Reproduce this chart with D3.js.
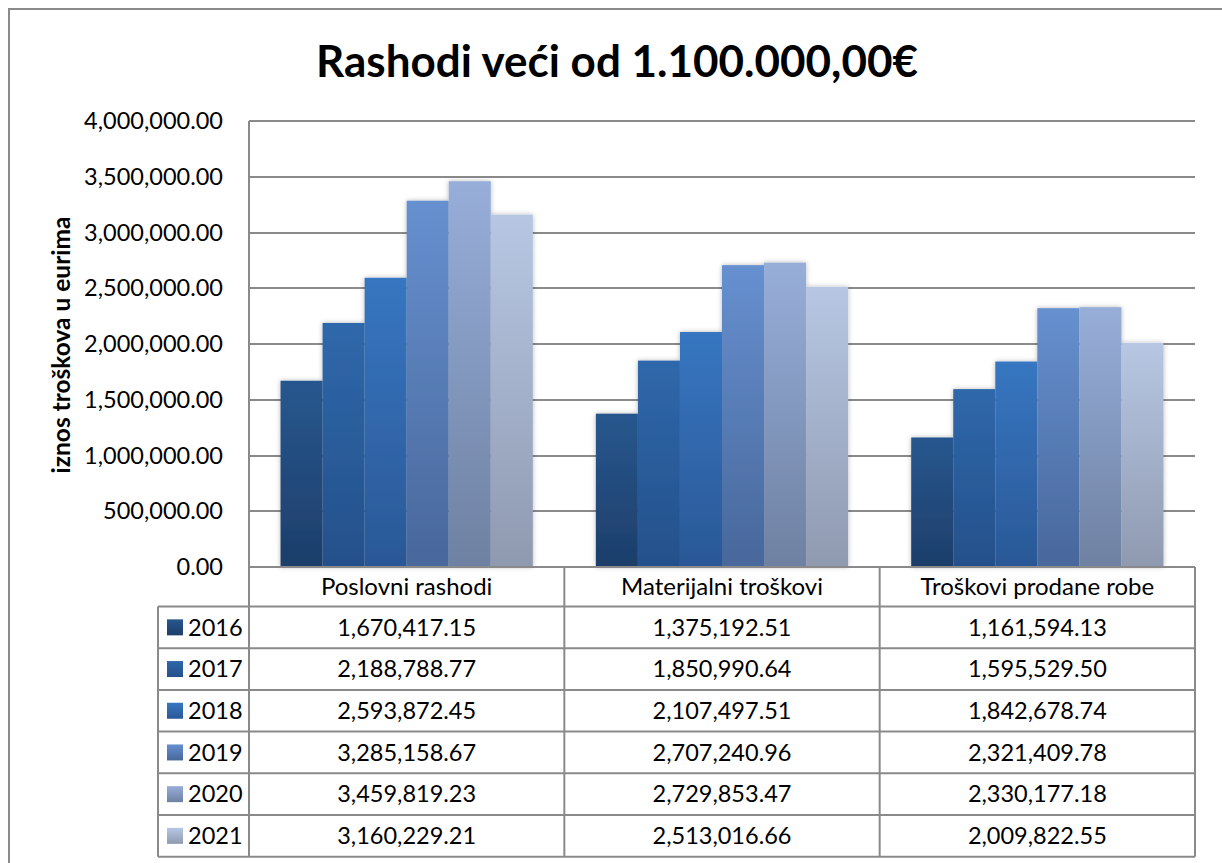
<!DOCTYPE html>
<html>
<head>
<meta charset="utf-8">
<script src="https://cdn.jsdelivr.net/npm/d3@7"></script>
<style>
  html, body { margin: 0; padding: 0; background: #fff; }
  svg { display: block; font-family: Lato, "Open Sans", sans-serif; }
</style>
</head>
<body>
<svg id="chart" width="1222" height="863"></svg>
<script>
const categories = ["Poslovni rashodi", "Materijalni troškovi", "Troškovi prodane robe"];
const years = ["2016", "2017", "2018", "2019", "2020", "2021"];
const values2016 = [1670417.15, 1375192.51, 1161594.13];
const values2017 = [2188788.77, 1850990.64, 1595529.50];
const values2018 = [2593872.45, 2107497.51, 1842678.74];
const values2019 = [3285158.67, 2707240.96, 2321409.78];
const values2020 = [3459819.23, 2729853.47, 2330177.18];
const values2021 = [3160229.21, 2513016.66, 2009822.55];
const yTicks = [0, 500000, 1000000, 1500000, 2000000, 2500000, 3000000, 3500000, 4000000];
const titleText = "Rashodi veći od 1.100.000,00€";
const yAxisTitle = "iznos troškova u eurima";

const seriesValues = [values2016, values2017, values2018, values2019, values2020, values2021];
const gradTop = ["#28578e", "#2f68ab", "#3776c1", "#6690cf", "#97aed9", "#b7c7e3"];
const gradBot = ["#1d3e6a", "#24508a", "#2a5896", "#48679b", "#6e81a2", "#8f9ab0"];

const svg = d3.select("#chart");
const gridCol = "#8a8a8a";
const numSize = 23.5;
const catSize = 24;

// outer border
svg.append("rect").attr("x", 9).attr("y", 9).attr("width", 1240).attr("height", 900)
  .attr("fill", "none").attr("stroke", gridCol).attr("stroke-width", 2);

const defs = svg.append("defs");
years.forEach((yr, i) => {
  const g = defs.append("linearGradient").attr("id", "g" + i)
    .attr("x1", 0).attr("y1", 0).attr("x2", 0).attr("y2", 1);
  g.append("stop").attr("offset", "0%").attr("stop-color", gradTop[i]);
  g.append("stop").attr("offset", "100%").attr("stop-color", gradBot[i]);
});
const flt = defs.append("filter").attr("id", "shadow").attr("x", "-20%").attr("y", "-20%").attr("width", "140%").attr("height", "140%");
flt.append("feDropShadow").attr("dx", 0).attr("dy", 0).attr("stdDeviation", 2.5)
  .attr("flood-color", "#000").attr("flood-opacity", 0.28);

const plotLeft = 249, plotRight = 1195, plotTop = 121, plotBottom = 567;
const yScale = d3.scaleLinear().domain([0, 4000000]).range([plotBottom, plotTop]);
const x0 = d3.scaleBand().domain(categories).range([plotLeft, plotRight]).padding(0);
const bw = x0.bandwidth();
const x1 = d3.scaleBand().domain(years).range([bw * 0.1, bw * 0.9]).padding(0);

// gridlines
svg.append("g").selectAll("line").data(yTicks).join("line")
  .attr("x1", plotLeft).attr("x2", plotRight)
  .attr("y1", d => Math.round(yScale(d))).attr("y2", d => Math.round(yScale(d)))
  .attr("stroke", gridCol).attr("stroke-width", 2);

// y axis tick labels
const fmt = d3.format(",.2f");
svg.append("g").selectAll("text").data(yTicks).join("text")
  .attr("x", 223).attr("y", d => yScale(d)).attr("dy", "0.35em")
  .attr("text-anchor", "end").attr("font-size", numSize).attr("fill", "#000")
  .text(d => fmt(d));

// y title
svg.append("text").attr("transform", "translate(70,345) rotate(-90)")
  .attr("text-anchor", "middle").attr("font-size", 24.5).attr("font-weight", "bold")
  .text(yAxisTitle);

// bars
const barG = svg.append("g").attr("filter", "url(#shadow)");
categories.forEach((c, ci) => {
  years.forEach((yr, si) => {
    const v = seriesValues[si][ci];
    barG.append("rect")
      .attr("x", x0(c) + x1(yr)).attr("width", x1.bandwidth())
      .attr("y", yScale(v)).attr("height", yScale(0) - yScale(v))
      .attr("fill", `url(#g${si})`);
  });
});

// data table
const rowH = 41.7;
const headerBottom = 606.5;
const legLeft = 158;
const tbl = svg.append("g");
tbl.append("line").attr("x1", plotLeft).attr("x2", plotRight).attr("y1", plotBottom).attr("y2", plotBottom)
  .attr("stroke", gridCol).attr("stroke-width", 2);
for (let i = 0; i <= years.length; i++) {
  const yy = headerBottom + i * rowH;
  tbl.append("line").attr("x1", legLeft).attr("x2", plotRight).attr("y1", yy).attr("y2", yy)
    .attr("stroke", gridCol).attr("stroke-width", 2);
}
const tableBottom = headerBottom + years.length * rowH;
tbl.append("line").attr("x1", plotLeft).attr("x2", plotLeft).attr("y1", plotTop).attr("y2", tableBottom)
  .attr("stroke", gridCol).attr("stroke-width", 2);
categories.forEach(c => {
  const xx = x0(c) + bw;
  tbl.append("line").attr("x1", xx).attr("x2", xx).attr("y1", plotBottom).attr("y2", tableBottom)
    .attr("stroke", gridCol).attr("stroke-width", 2);
});
tbl.append("line").attr("x1", legLeft).attr("x2", legLeft).attr("y1", headerBottom).attr("y2", tableBottom)
  .attr("stroke", gridCol).attr("stroke-width", 2);

// header labels
tbl.selectAll("text.cat").data(categories).join("text").attr("class", "cat")
  .attr("x", d => x0(d) + bw / 2).attr("y", (plotBottom + headerBottom) / 2).attr("dy", "0.35em")
  .attr("text-anchor", "middle").attr("font-size", catSize).text(d => d);

// rows
years.forEach((yr, si) => {
  const cy = headerBottom + si * rowH + rowH / 2;
  tbl.append("rect").attr("x", 167).attr("y", cy - 8).attr("width", 16).attr("height", 16)
    .attr("fill", `url(#g${si})`);
  tbl.append("text").attr("x", 188).attr("y", cy).attr("dy", "0.35em")
    .attr("font-size", numSize).text(yr);
  categories.forEach((c, ci) => {
    tbl.append("text").attr("x", x0(c) + bw / 2).attr("y", cy).attr("dy", "0.35em")
      .attr("text-anchor", "middle").attr("font-size", numSize)
      .text(fmt(seriesValues[si][ci]));
  });
});

// title
const titleEl = svg.append("text").attr("x", 617).attr("y", 62).attr("dy", "0.35em")
  .attr("text-anchor", "middle").attr("font-size", 40).attr("font-weight", "bold")
  .text(titleText);
const tw = titleEl.node().getComputedTextLength();
titleEl.attr("font-size", 40 * 602 / tw);
</script>
</body>
</html>
